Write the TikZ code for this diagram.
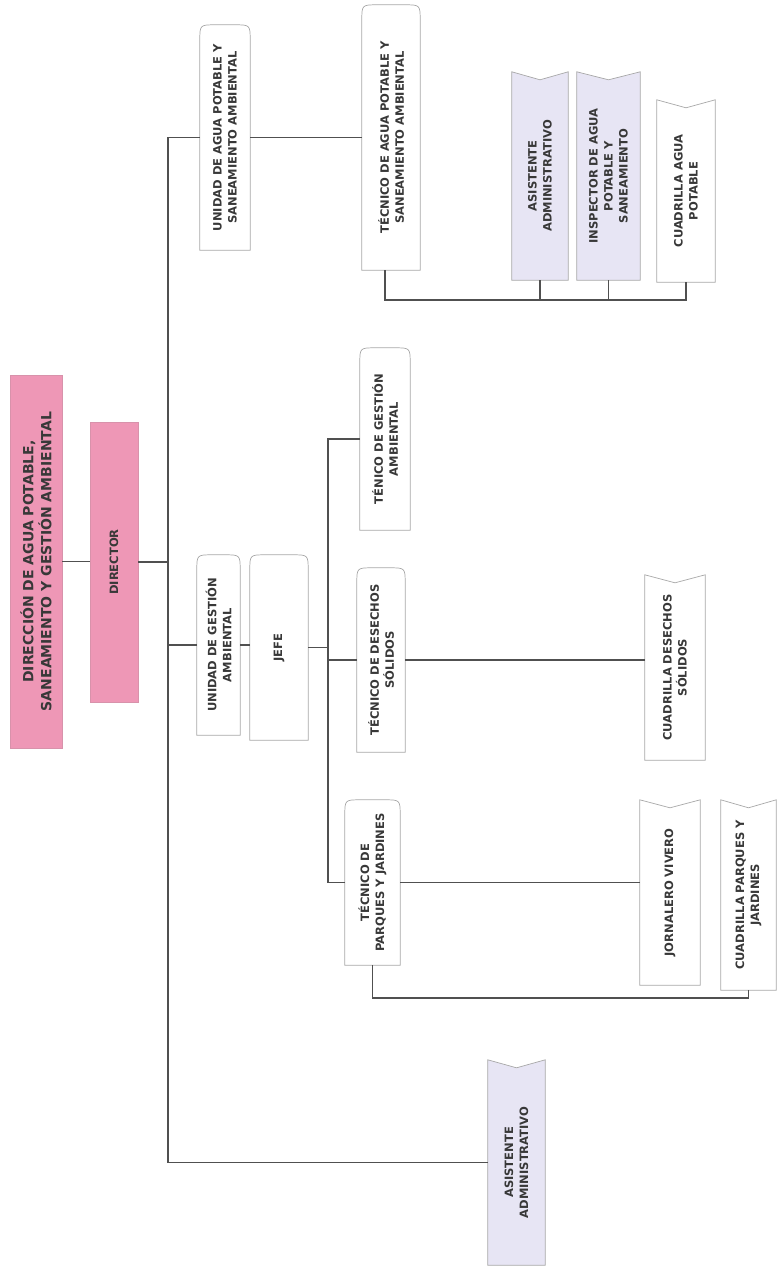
\documentclass[tikz,border=0pt]{standalone}
\usepackage{fontspec}
\setmainfont{DejaVu Sans}
\usetikzlibrary{backgrounds}
\definecolor{rosa}{HTML}{EE97B6}
\definecolor{lila}{HTML}{E7E5F4}
\definecolor{linea}{HTML}{505050}
\definecolor{borde}{HTML}{A8A8A8}
\definecolor{texto}{HTML}{383838}
\tikzset{
  caja/.style={rotate=90, inner sep=0pt, align=center, text=texto,
    font=\fontsize{11.5}{15}\selectfont\bfseries},
  conn/.style={draw=linea, line width=1.2pt},
  contorno/.style={draw=borde, line width=0.7pt},
}
% contorno con tapa redondeada (arriba en la imagen)
\newcommand{\tapa}[2]{%
  \path[contorno, fill=#2] (#1.north west) -- ([yshift=-16pt]#1.north east)
    .. controls (#1.north east) .. ([xshift=16pt]#1.north east)
    -- ([xshift=-16pt]#1.south east)
    .. controls (#1.south east) .. ([yshift=-16pt]#1.south east)
    -- (#1.south west) -- cycle;}
% contorno con pico (muesca arriba)
\newcommand{\pico}[2]{%
  \path[contorno, fill=#2] (#1.north west) -- (#1.north east)
    -- ([yshift=-8pt]#1.east) -- (#1.south east) -- (#1.south west) -- cycle;}
\begin{document}
\begin{tikzpicture}[x=1pt, y=-1pt]
\useasboundingbox (0,0) rectangle (777,1275);
% direccion
\node[caja, fill=rosa, draw=rosa!80!gray, minimum width=373pt, minimum height=52pt,
  font=\fontsize{14}{18}\selectfont\bfseries] (direccion) at (36,561.5)
  {DIRECCIÓN DE AGUA POTABLE,\\SANEAMIENTO Y GESTIÓN AMBIENTAL};
\node[caja, fill=rosa, draw=rosa!80!gray, minimum width=280pt, minimum height=48pt] (director) at (114,562) {DIRECTOR};
% unidad de agua potable
\node[caja, minimum width=225pt, minimum height=50pt] (uapsa) at (225,137.5) {UNIDAD DE AGUA POTABLE Y\\SANEAMIENTO AMBIENTAL};
\node[caja, minimum width=265pt, minimum height=58pt] (tapsa) at (391,137.5) {TÉCNICO DE AGUA POTABLE Y\\SANEAMIENTO AMBIENTAL};
\node[caja, minimum width=208pt, minimum height=56pt] (asis1) at (540,176) {ASISTENTE\\ADMINISTRATIVO};
\node[caja, minimum width=208pt, minimum height=63pt] (insp) at (608.5,176) {INSPECTOR DE AGUA\\POTABLE Y\\SANEAMIENTO};
\node[caja, minimum width=182pt, minimum height=58pt] (cuadagua) at (686,191) {CUADRILLA AGUA\\POTABLE};
% unidad de gestion ambiental
\node[caja, minimum width=180pt, minimum height=43pt] (ugam) at (218.5,645) {UNIDAD DE GESTIÓN\\AMBIENTAL};
\node[caja, minimum width=185pt, minimum height=58pt] (jefe) at (279,647.5) {JEFE};
\node[caja, minimum width=182pt, minimum height=50pt] (tgam) at (385,439) {TÉNICO DE GESTIÓN\\AMBIENTAL};
\node[caja, minimum width=184pt, minimum height=48pt] (tds) at (381,660) {TÉCNICO DE DESECHOS\\SÓLIDOS};
\node[caja, minimum width=185pt, minimum height=60pt] (cds) at (675,667.5) {CUADRILLA DESECHOS\\SÓLIDOS};
\node[caja, minimum width=165pt, minimum height=55pt] (tpj) at (372.5,882.5) {TÉCNICO DE\\PARQUES Y JARDINES};
\node[caja, minimum width=185pt, minimum height=60pt] (jv) at (670,892.5) {JORNALERO VIVERO};
\node[caja, minimum width=190pt, minimum height=55pt] (cpj) at (748.5,895) {CUADRILLA PARQUES Y\\JARDINES};
% asistente de la direccion
\node[caja, minimum width=205pt, minimum height=57pt] (asis2) at (516.5,1162.5) {ASISTENTE\\ADMINISTRATIVO};
% conectores
\coordinate (spine) at (168,0);
\coordinate (bus1) at (385,300);
\coordinate (bus2) at (328,0);
\coordinate (bus3) at (0,998);
\draw[conn] (direccion.south) -- (direccion.south -| director.north);
\draw[conn] (director.south) -- (spine |- director.south);
\draw[conn] (uapsa.north) -- (spine |- uapsa.north) -- (spine |- asis2.north) -- (asis2.north);
\draw[conn] (ugam.north) -- (spine |- ugam.north);
\draw[conn] (uapsa.south) -- (uapsa.south -| tapsa.north);
\draw[conn] (bus1 |- tapsa.west) -- (bus1) -- (bus1 -| cuadagua.west) -- (cuadagua.west);
\draw[conn] (asis1.west) -- (asis1.west |- bus1);
\draw[conn] (insp.west) -- (insp.west |- bus1);
\draw[conn] (ugam.south) -- (ugam.south -| jefe.north);
\draw[conn] (jefe.south) -- (bus2 |- jefe.south);
\draw[conn] (tgam.north) -- (bus2 |- tgam.north) -- (bus2 |- tpj.north) -- (tpj.north);
\draw[conn] (tds.north) -- (bus2 |- tds.north);
\draw[conn] (tds.south) -- (tds.south -| cds.north);
\draw[conn] (tpj.south) -- (tpj.south -| jv.north);
\draw[conn] (tpj.west) -- (tpj.west |- bus3) -- (cpj.west |- bus3) -- (cpj.west);
% contornos
\begin{scope}[on background layer]
\fill[white] (0,0) rectangle (777,1275);
\tapa{uapsa}{white}
\tapa{tapsa}{white}
\tapa{ugam}{white}
\tapa{jefe}{white}
\tapa{tgam}{white}
\tapa{tds}{white}
\tapa{tpj}{white}
\pico{asis1}{lila}
\pico{insp}{lila}
\pico{cuadagua}{white}
\pico{cds}{white}
\pico{jv}{white}
\pico{cpj}{white}
\pico{asis2}{lila}
\end{scope}
\end{tikzpicture}
\end{document}
